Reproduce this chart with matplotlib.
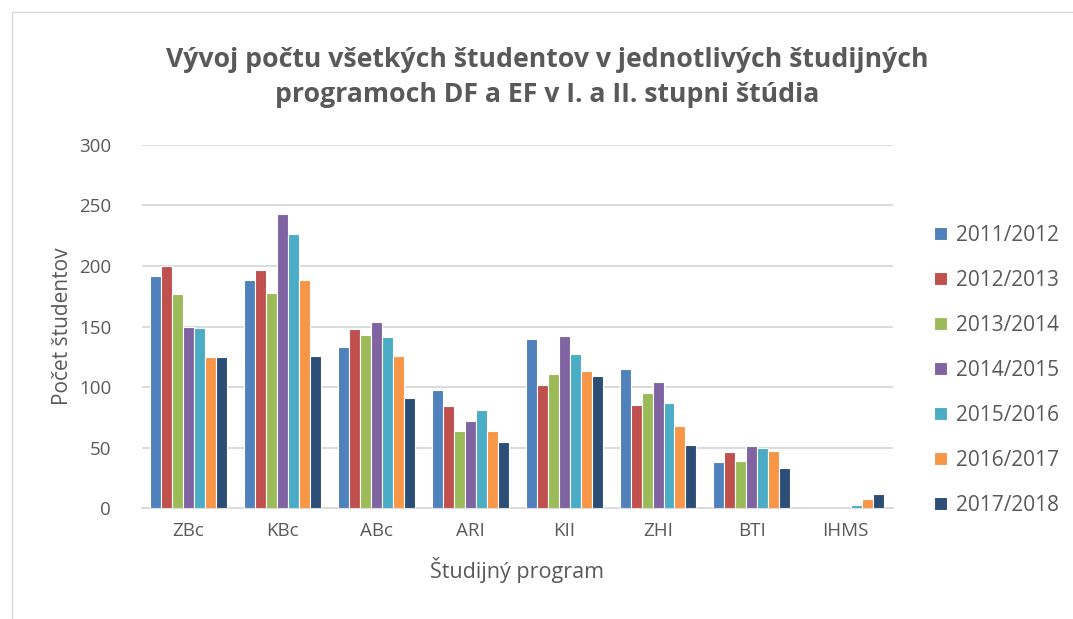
import matplotlib.pyplot as plt
import numpy as np
from matplotlib.patches import Rectangle

programs = ['ZBc', 'KBc', 'ABc', 'ARI', 'KII', 'ZHI', 'BTI', 'IHMS']
years = ['2011/2012', '2012/2013', '2013/2014', '2014/2015',
         '2015/2016', '2016/2017', '2017/2018']

y2011 = [192, 188, 133, 98, 140, 115, 38, 0]
y2012 = [200, 197, 148, 84, 102, 85, 46, 0]
y2013 = [177, 178, 143, 64, 111, 95, 39, 0]
y2014 = [150, 243, 154, 72, 142, 104, 51, 0]
y2015 = [149, 226, 141, 81, 127, 87, 50, 3]
y2016 = [125, 188, 126, 64, 113, 68, 47, 8]
y2017 = [125, 126, 91, 55, 109, 52, 33, 12]
series = [y2011, y2012, y2013, y2014, y2015, y2016, y2017]

colors = ['#4F81BD', '#C0504D', '#9BBB59', '#8064A2', '#4BACC6', '#F79646', '#2C4D75']
txt = '#595959'

plt.rcParams['font.family'] = ['Open Sans', 'DejaVu Sans']

fig = plt.figure(figsize=(10.73, 6.19), dpi=100)
ax = fig.add_axes([0.132, 0.179, 0.7, 0.587])

# outer chart border
fig.patches.append(Rectangle((12 / 1073, -0.01), 1.1, 1 - 12 / 619 + 0.01,
                             transform=fig.transFigure, fill=False,
                             edgecolor='#D9D9D9', linewidth=1))

x = np.arange(len(programs))
slot = 0.117
for i, (vals, c, lab) in enumerate(zip(series, colors, years)):
    ax.bar(x + (i - 3) * slot, vals, width=slot, color=c, edgecolor='white',
           linewidth=0.8, label=lab, zorder=3)

ax.set_xlim(-0.5, len(programs) - 0.5)
ax.set_ylim(0, 300)
ax.set_yticks(range(0, 301, 50))
ax.set_xticks(x)
ax.set_xticklabels(programs)
ax.grid(axis='y', color='#D9D9D9', linewidth=1.3, zorder=0)
for s in ['top', 'right', 'left']:
    ax.spines[s].set_visible(False)
ax.spines['bottom'].set_color('#D9D9D9')
ax.spines['bottom'].set_linewidth(1.3)
ax.tick_params(length=0, labelsize=13.5, colors=txt, pad=10)
ax.tick_params(axis='y', pad=22)

ax.set_ylabel('Počet študentov', fontsize=15, color=txt, labelpad=4)
ax.set_xlabel('Študijný program', fontsize=15.5, color=txt, labelpad=12)

fig.text(0.51, 0.875, 'Vývoj počtu všetkých študentov v jednotlivých študijných\n'
         'programoch DF a EF v I. a II. stupni štúdia', ha='center', va='center',
         fontsize=19.2, fontweight='bold', color=txt, linespacing=1.45)

leg = ax.legend(loc='center left', bbox_to_anchor=(1.03, 0.379), frameon=False,
                fontsize=15, labelcolor=txt, handlelength=0.6, handleheight=0.6,
                handletextpad=0.45, labelspacing=1.15)

fig.savefig('out.png', dpi=100)
